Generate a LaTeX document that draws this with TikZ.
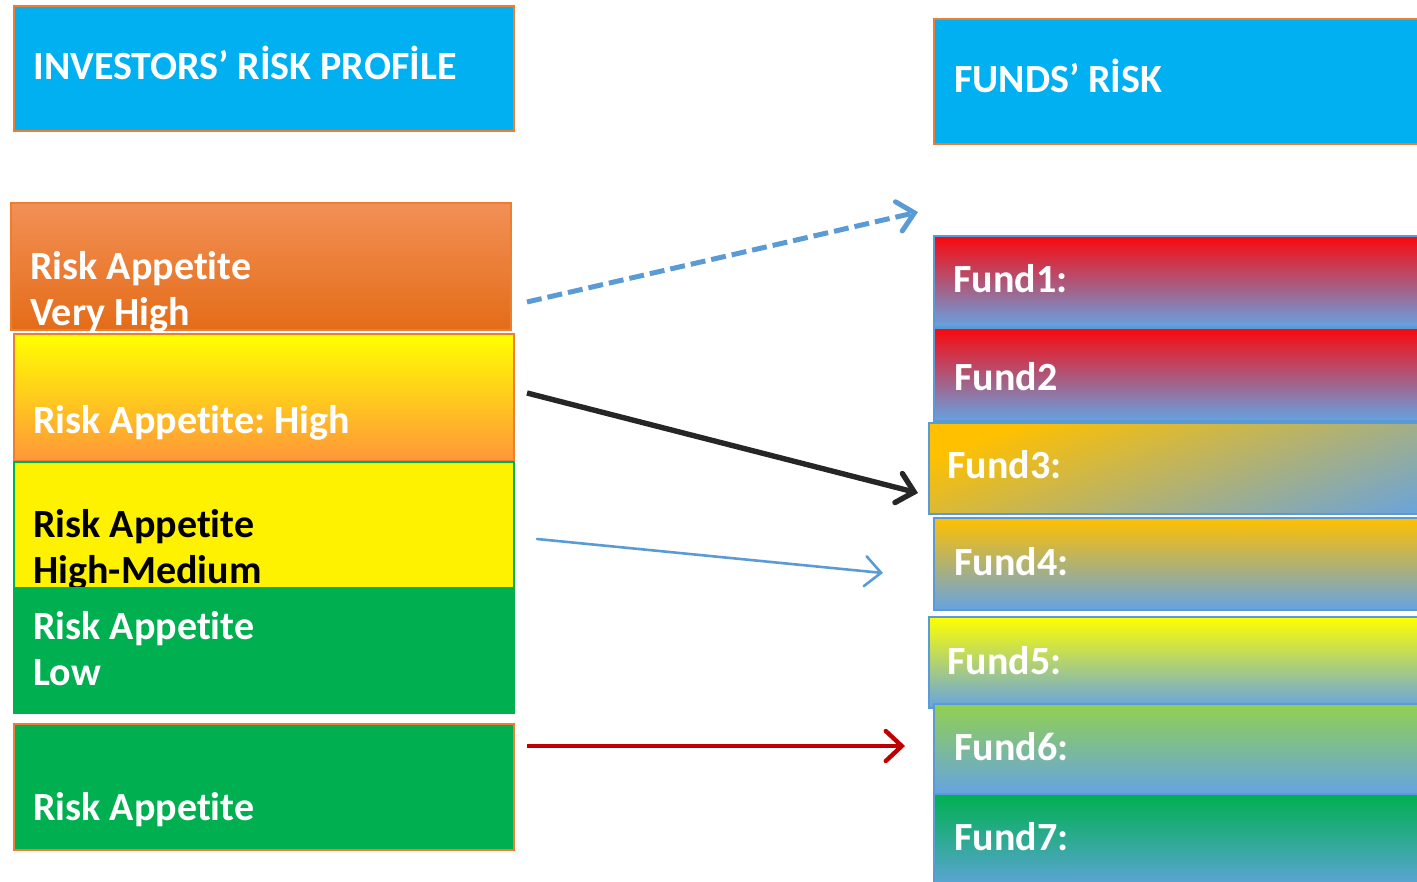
\documentclass[tikz,border=0pt]{standalone}
\usepackage{fontspec}
\setmainfont{Carlito}[Ligatures=NoCommon]
\usetikzlibrary{arrows.meta}

\definecolor{headblue}{RGB}{0,176,240}
\definecolor{edgeorange}{RGB}{237,125,49}
\definecolor{edgeblue}{RGB}{91,155,213}
\definecolor{fadeblue}{RGB}{101,163,227}
\definecolor{riskgreen}{RGB}{0,176,80}
\definecolor{lightorange}{RGB}{242,144,86}
\definecolor{darkorange}{RGB}{228,108,24}
\definecolor{paleorange}{RGB}{255,150,58}
\definecolor{fundred}{RGB}{250,8,12}
\definecolor{fundgold}{RGB}{255,192,0}
\definecolor{fundlime}{RGB}{146,208,80}
\definecolor{arrowred}{RGB}{192,0,0}
\definecolor{arrowblack}{RGB}{38,38,38}

\begin{document}
\begin{tikzpicture}[x=0.5pt,y=-0.5pt,
	box/.style={rectangle,anchor=north west,inner sep=0pt,line width=1.2pt},
	headbox/.style={box,draw=edgeorange,fill=headblue,minimum height=62.5pt},
	riskbox/.style={box,minimum width=250pt,minimum height=63.5pt},
	fundbox/.style={box,draw=edgeblue,bottom color=fadeblue,minimum width=300pt,minimum height=45.5pt},
	lbl/.style={anchor=base west,inner sep=0pt,text=white,align=left,
		font=\bfseries\fontsize{20}{23}\selectfont},
	link/.style={-{Straight Barb[length=8pt,width=15pt,line cap=round]}}]
\useasboundingbox (0,0) rectangle (1417,882);
\clip (0,0) rectangle (1417,882);

% headings
\node[headbox,minimum width=250pt] (invhead) at (13,5) {};
\node[lbl] (invhead-t) at (33,80) {INVESTORS’ RİSK PROFİLE};
\node[headbox,minimum width=300pt] (fundhead) at (933,18) {};
\node[lbl] (fundhead-t) at (954,93) {FUNDS’ RİSK};

% investor side (two-line labels sit on their last baseline)
\node[riskbox,draw=edgeorange,top color=lightorange,bottom color=darkorange] (vhigh) at (10,202) {};
\begin{scope}
\clip (vhigh.north west) rectangle (vhigh.south east);
\node[lbl] (vhigh-t) at (30,325) {Risk Appetite\\Very High};
\end{scope}
\node[riskbox,draw=edgeorange,top color=yellow,bottom color=paleorange] (high) at (13,333) {};
\node[lbl] (high-t) at (33,433) {Risk Appetite:\ High};
\node[riskbox,draw=riskgreen,fill=yellow] (himed) at (13,461) {};
\node[lbl,text=black] (himed-t) at (33,583) {Risk Appetite\\High-Medium};
\node[riskbox,fill=riskgreen,minimum width=251pt] (low) at (12,586) {};
\node[lbl] (low-t) at (33,685) {Risk Appetite\\Low};
\node[riskbox,draw=edgeorange,fill=riskgreen,minimum height=63pt] (vlow) at (13,723) {};
\node[lbl] (vlow-t) at (33,820) {Risk Appetite};

% fund side
\node[fundbox,top color=fundred] (f1) at (933,235) {};
\node[lbl] (f1-t) at (953,292) {Fund1:};
\node[fundbox,top color=fundred,minimum height=46.5pt] (f2) at (933,327) {};
\node[lbl] (f2-t) at (954,390) {Fund2};
\node[fundbox,top color=fundgold,shading angle=20] (f3) at (928,422) {};
\node[lbl] (f3-t) at (947,478) {Fund3:};
\node[fundbox,top color=fundgold,minimum height=46pt] (f4) at (933,517) {};
\node[lbl] (f4-t) at (954,575) {Fund4:};
\node[fundbox,top color=yellow] (f5) at (928,616) {};
\node[lbl] (f5-t) at (947,674) {Fund5:};
\node[fundbox,top color=fundlime,minimum height=45pt] (f6) at (933,703) {};
\node[lbl] (f6-t) at (954,760) {Fund6:};
\node[fundbox,top color=riskgreen,minimum height=50pt] (f7) at (933,793) {};
\node[lbl] (f7-t) at (954,850) {Fund7:};

% links
\coordinate (vhigh-out) at (527,302);
\coordinate (vhigh-in) at (918,212);
\coordinate (high-out) at (527,393);
\coordinate (high-in) at (918,493);
\coordinate (himed-out) at (537,539);
\coordinate (himed-in) at (883,573);
\coordinate (vlow-out) at (527,746);
\coordinate (vlow-in) at (905,746);
\draw[link,edgeblue,line width=2.5pt,dash pattern=on 7.5pt off 3pt] (vhigh-out) -- (vhigh-in);
\draw[link,arrowblack,line width=2.7pt] (high-out) -- (high-in);
\draw[link,edgeblue,line width=1.3pt,line cap=round] (himed-out) -- (himed-in);
\draw[link,arrowred,line width=2.2pt] (vlow-out) -- (vlow-in);
\end{tikzpicture}
\end{document}
